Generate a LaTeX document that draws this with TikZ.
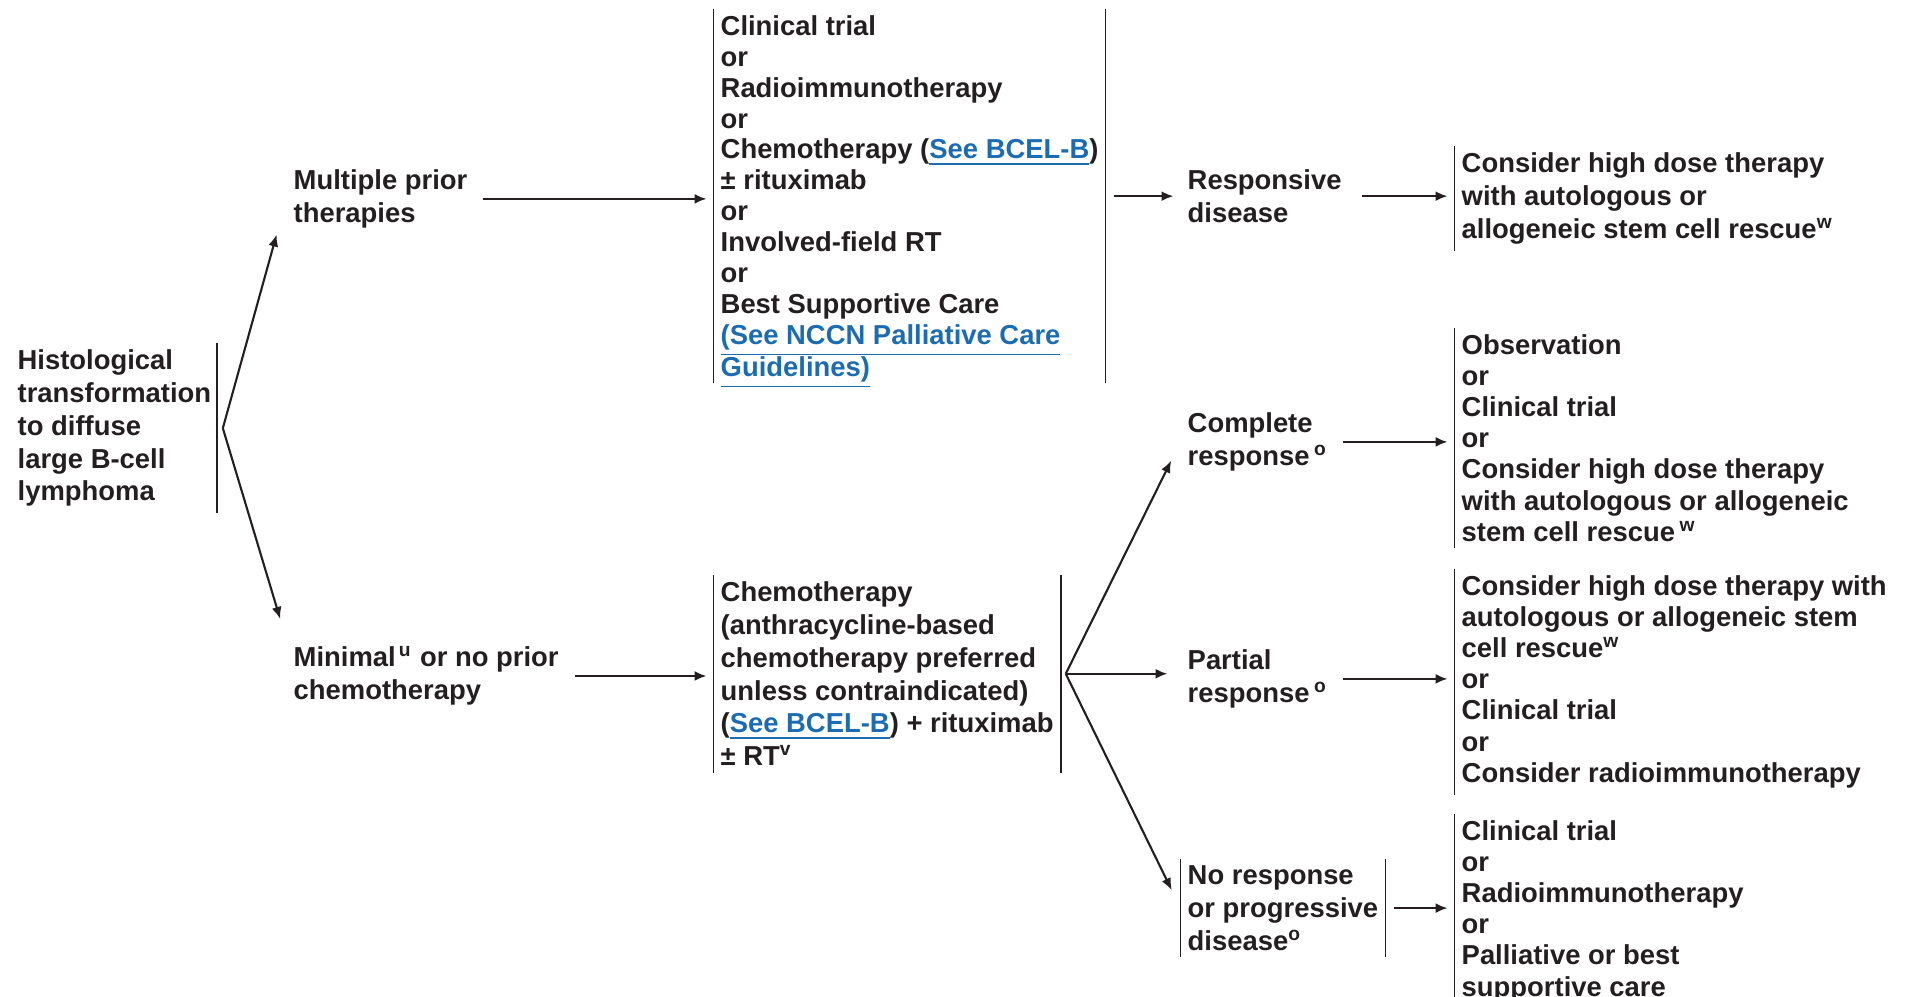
\documentclass[tikz,border=0pt]{standalone}
\usepackage{fontspec}
\setmainfont{Liberation Sans}
\usetikzlibrary{arrows.meta}
\definecolor{txtgray}{RGB}{35,31,32}
\definecolor{linkblue}{RGB}{28,108,178}
\newcommand{\seelink}[1]{\textcolor{linkblue}{\smash{\underline{#1}}}}

\tikzset{
  box/.style={anchor=north west, align=left, inner xsep=0.065cm, inner ysep=0.06cm,
    text=txtgray, font=\fontsize{7.8pt}{9.35pt}\selectfont\bfseries},
  tight/.style={font=\fontsize{7.8pt}{8.85pt}\selectfont\bfseries},
  bar/.style={draw=txtgray, line width=0.45pt},
  arr/.style={-{Latex[length=1.2mm,width=1mm]}, draw=txtgray, line width=0.6pt,
    shorten <=0.08cm, shorten >=0.07cm},
}

\begin{document}
\begin{tikzpicture}
\useasboundingbox (0,0) rectangle (19.05,9.97);
\node[box, inner xsep=0.05cm] (hist) at (0.12,6.54) {Histological\\transformation\\to diffuse\\large B-cell\\lymphoma};
\draw[bar] (hist.north east) -- (hist.south east);

\node[box] (mult) at (2.865,8.34) {Multiple prior\\therapies};
\node[box] (minimal) at (2.865,3.57) {Minimal\textsuperscript{\,u} or no prior\\chemotherapy};

\node[box, tight, font=\fontsize{7.8pt}{8.78pt}\selectfont\bfseries] (salv) at (7.135,9.88) {Clinical trial\\or\\Radioimmunotherapy\\or\\Chemotherapy (\seelink{See BCEL-B})\\\textpm{} rituximab\\or\\Involved-field RT\\or\\Best Supportive Care\\\seelink{(See NCCN Palliative Care}\\[0.3pt]\seelink{Guidelines)}};
\draw[bar] (salv.north west) -- (salv.south west);
\draw[bar] (salv.north east) -- (salv.south east);

\node[box] (chemo) at (7.135,4.22) {Chemotherapy\\(anthracycline-based\\chemotherapy preferred\\unless contraindicated)\\(\seelink{See BCEL-B}) + rituximab\\\textpm{} RT\textsuperscript{v}};
\draw[bar] (chemo.north west) -- (chemo.south west);
\draw[bar] (chemo.north east) -- (chemo.south east);

\node[box] (resp) at (11.805,8.34) {Responsive\\disease};
\node[box] (compl) at (11.805,5.91) {Complete\\response\,\textsuperscript{o}};
\node[box] (partial) at (11.805,3.54) {Partial\\response\,\textsuperscript{o}};
\node[box] (nores) at (11.805,1.38) {No response\\or progressive\\disease\textsuperscript{o}};
\draw[bar] (nores.north west) -- (nores.south west);
\draw[bar] (nores.north east) -- (nores.south east);

\node[box] (respout) at (14.545,8.51) {Consider high dose therapy\\with autologous or\\allogeneic stem cell rescue\textsuperscript{w}};
\draw[bar] (respout.north west) -- (respout.south west);
\node[box, tight] (crout) at (14.545,6.69) {Observation\\or\\Clinical trial\\or\\Consider high dose therapy\\with autologous or allogeneic\\stem cell rescue\,\textsuperscript{w}};
\draw[bar] (crout.north west) -- (crout.south west);
\node[box, tight] (prout) at (14.545,4.28) {Consider high dose therapy with\\autologous or allogeneic stem\\cell rescue\textsuperscript{w}\\or\\Clinical trial\\or\\Consider radioimmunotherapy};
\draw[bar] (prout.north west) -- (prout.south west);
\node[box, tight] (nrout) at (14.545,1.83) {Clinical trial\\or\\Radioimmunotherapy\\or\\Palliative or best\\supportive care};
\draw[bar] (nrout.north west) -- (nrout.south west);

\draw[arr, shorten <=0cm, shorten >=0.37cm] ([xshift=0.06cm]hist.east) -- (mult.west);
\draw[arr, shorten <=0cm, shorten >=0.22cm] ([xshift=0.06cm]hist.east) -- (minimal.north west);
\draw[arr] (mult.east) -- (mult.east -| salv.west);
\draw[arr, shorten <=0.09cm] (minimal.east) -- (minimal.east -| chemo.west);
\draw[arr] (resp.west -| salv.east) -- (resp.west);
\draw[arr, shorten <=0.13cm] (resp.east) -- (resp.east -| respout.west);
\draw[arr, shorten <=0cm, shorten >=0.21cm] ([xshift=0.05cm]chemo.east) -- (compl.west);
\draw[arr, shorten <=0.05cm, shorten >=0.13cm] (chemo.east) -- (chemo.east -| partial.west);
\draw[arr, shorten <=0cm, shorten >=0.2cm] ([xshift=0.05cm]chemo.east) -- (nores.west);
\draw[arr] (compl.east) -- (compl.east -| crout.west);
\draw[arr] (partial.east) -- (partial.east -| prout.west);
\draw[arr, shorten <=0.09cm] (nores.east) -- (nores.east -| nrout.west);
\end{tikzpicture}
\end{document}
